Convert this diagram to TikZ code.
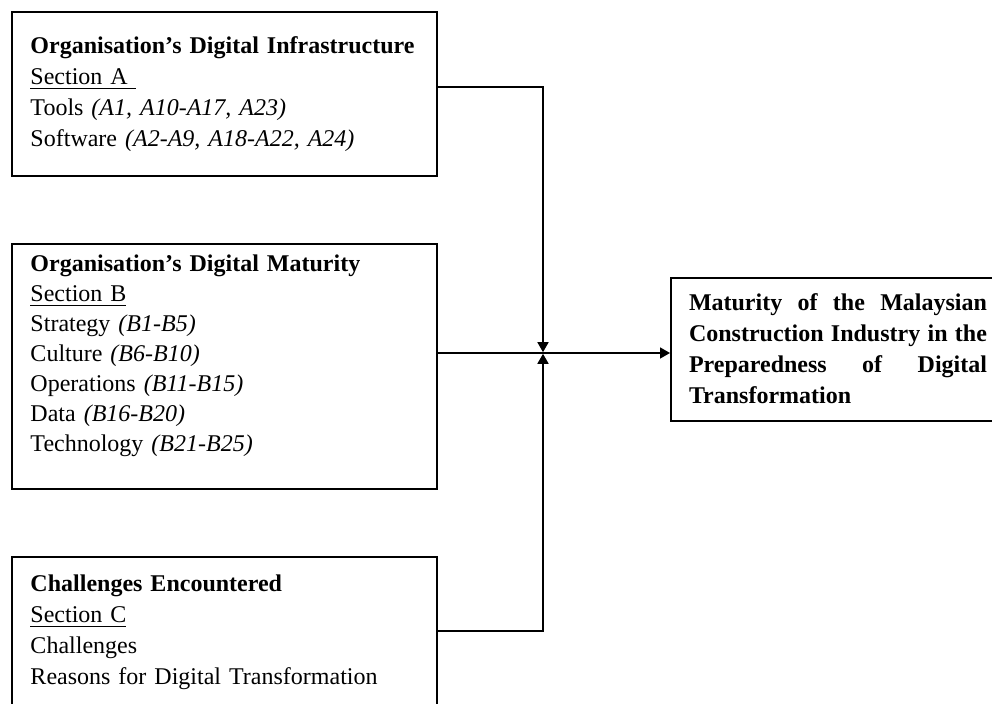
\documentclass[tikz,border=0pt]{standalone}
\usepackage{fontspec}
\setmainfont{Liberation Serif}
\usetikzlibrary{arrows.meta,positioning}
\hyphenpenalty=10000

\begin{document}
\begin{tikzpicture}[
    x=0.5pt, y=-0.5pt,
    panel/.style={rectangle, draw=black, line width=1pt, anchor=north west, align=left, text width=194pt, inner xsep=9.25pt, inner ysep=0pt, font=\fontsize{12}{15.5}\selectfont},
    result/.style={rectangle, draw=black, line width=1pt, anchor=north west, align=justify, text width=149pt, inner xsep=9pt, inner ysep=0pt, font=\bfseries\fontsize{12}{15.5}\selectfont},
    arrow/.style={line width=0.8pt, ->, >={Triangle[length=5pt, width=5.5pt]}}
]
\useasboundingbox (0,0) rectangle (992,704);

% Input boxes - left column
\node[panel, text height=21pt, text depth=61pt] (infra) at (11,11) {\textbf{Organisation's Digital Infrastructure}\\ \underline{Section A\ }\\ Tools \textit{(A1, A10-A17, A23)}\\ Software \textit{(A2-A9, A18-A22, A24)}};
\node[panel, text height=14pt, text depth=108.5pt, font=\fontsize{12}{15}\selectfont, below=33pt of infra.south west, anchor=north west] (maturity) {\textbf{Organisation's Digital Maturity}\\ \underline{Section B}\\ Strategy \textit{(B1-B5)}\\ Culture \textit{(B6-B10)}\\ Operations \textit{(B11-B15)}\\ Data \textit{(B16-B20)}\\ Technology \textit{(B21-B25)}};
\node[panel, text height=17.5pt, text depth=64.5pt, below=33pt of maturity.south west, anchor=north west] (challenges) {\textbf{Challenges Encountered}\\ \underline{Section C}\\ Challenges\\ Reasons for Digital Transformation};

% Outcome box - right
\node[result, text height=16.5pt, text depth=55pt] (outcome) at (670,277) {Maturity of the Malaysian Construction Industry in the\linebreak Preparedness of Digital\linebreak Transformation};

% Junction of the three inputs
\coordinate (join) at (543,353);

% Connections
\draw[arrow] ([yshift=3.5pt]infra.east) -| ([yshift=0.4pt]join);
\draw[arrow] (maturity.east |- join) -- (outcome.west |- join);
\draw[arrow] ([yshift=4pt]challenges.east) -| ([yshift=-0.4pt]join);

\end{tikzpicture}
\end{document}
